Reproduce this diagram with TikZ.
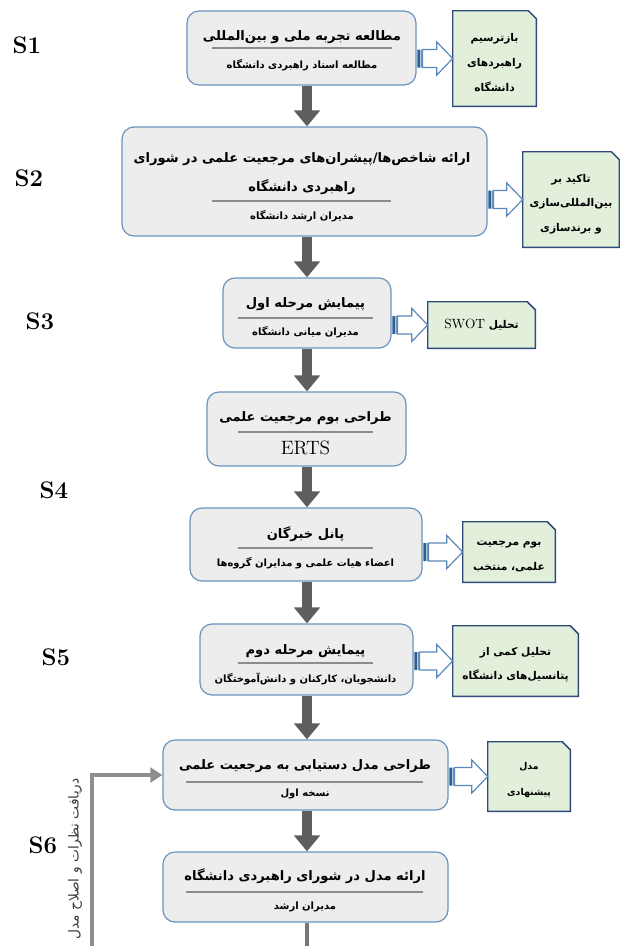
\documentclass[tikz,border=0pt]{standalone}
\usepackage{fontspec}
\usetikzlibrary{arrows.meta,calc}
\TeXXeTstate=1
\newfontfamily\farsi[Script=Arabic]{DejaVu Sans}
\newcommand{\fa}[1]{{\farsi\beginR #1\endR}}

\definecolor{boxfill}{HTML}{EDEDED}
\definecolor{boxline}{HTML}{6A93BF}
\definecolor{notefill}{HTML}{E2EFDA}
\definecolor{noteline}{HTML}{2F4B7C}
\definecolor{flowgray}{HTML}{5E5E5E}
\definecolor{loopgray}{HTML}{8E8E8E}
\definecolor{rulegray}{HTML}{8C8C8C}
\definecolor{hollowline}{HTML}{5A88BC}
\definecolor{stripeblue}{HTML}{2F5F90}
\definecolor{labelgray}{HTML}{3A3A3A}

\tikzset{
  wh/.style 2 args={minimum width=#1*0.75pt, minimum height=#2*0.75pt},
  stepbox/.style={rectangle, draw=boxline, fill=boxfill, line width=0.9pt,
    rounded corners=9pt, inner sep=0pt},
  noteframe/.style={rectangle, inner sep=0pt},
  notefacet/.style={draw=noteline, fill=notefill, line width=1.1pt, line join=miter},
  notetext/.style={inner sep=0pt, align=center, font=\fontsize{8}{18.5}\selectfont\bfseries},
  ttl/.style={inner sep=0pt, font=\fontsize{9.8}{12}\selectfont\bfseries},
  subttl/.style={inner sep=0pt, font=\fontsize{7.5}{10}\selectfont\bfseries},
  rulel/.style={draw=rulegray, line width=0.8pt},
  flow/.style={draw=flowgray, line width=7.2pt, -{Triangle[length=12pt,width=19pt]}},
  loopline/.style={draw=loopgray, line width=3.4pt, -{Triangle[length=9pt,width=11pt]}},
  stubline/.style={draw=flowgray!85, line width=3.4pt},
  hollow/.style={draw=hollowline, fill=white, line width=0.9pt, line join=miter},
  slabel/.style={inner sep=0pt, font=\fontsize{18}{20}\selectfont\bfseries},
}

% note sheet with a clipped upper right corner
\newcommand{\notesheet}[1]{%
  \draw[notefacet] (#1.south west) -- (#1.north west) -- ([xshift=-6pt]#1.north east)
    -- ([yshift=-6pt]#1.north east) -- (#1.south east) -- cycle;}

% striped hollow block arrow from a step box to its note
\newcommand{\hollowarrow}[2]{%
  \fill[stripeblue] let \p1=(#1.east), \p2=(#2.west) in
    (\x1+0.5pt,\y2-6.75pt) rectangle (\x1+2.4pt,\y2+6.75pt)
    (\x1+3.1pt,\y2-6.75pt) rectangle (\x1+3.8pt,\y2+6.75pt);
  \draw[hollow] let \p1=(#1.east), \p2=(#2.west) in
    (\x1+4.4pt,\y2-6.75pt) -- (\x2-12pt,\y2-6.75pt) -- (\x2-12pt,\y2-12.4pt)
    -- (\x2,\y2) -- (\x2-12pt,\y2+12.4pt) -- (\x2-12pt,\y2+6.75pt)
    -- (\x1+4.4pt,\y2+6.75pt) -- cycle;}

\begin{document}
\begin{tikzpicture}[x=0.75pt,y=-0.75pt]
\useasboundingbox (0,0) rectangle (620,946);
\clip (0,0) rectangle (620,946);

% stage labels
\node[slabel] (s1) at (27,45) {S1};
\node[slabel] (s2) at (29,178) {S2};
\node[slabel] (s3) at (40,321) {S3};
\node[slabel] (s4) at (54,490) {S4};
\node[slabel] (s5) at (56,657) {S5};
\node[slabel] (s6) at (43,845) {S6};

% main flow axis
\coordinate (mx) at (307,0);

% step boxes
\node[stepbox, wh={229}{74}]  (b1) at (301.5,48) {};
\node[stepbox, wh={365}{109}] (b2) at (304.5,181.5) {};
\node[stepbox, wh={168}{70}]  (b3) at (307,313) {};
\node[stepbox, wh={199}{74}]  (b4) at (306.5,429) {};
\node[stepbox, wh={232}{73}]  (b5) at (306,544.5) {};
\node[stepbox, wh={213}{71}]  (b6) at (306.5,659.5) {};
\node[stepbox, wh={285}{70}]  (b7) at (305.5,775) {};
\node[stepbox, wh={285}{70}]  (b8) at (305.5,887) {};

% titles, rules and subtitles
\node[ttl] (t1) at (302,37) {\fa{مطالعه تجربه ملی و بین‌المللی}};
\draw[rulel] (212,48) -- (392,48);
\node[subttl] (u1) at (302,65) {\fa{مطالعه اسناد راهبردی دانشگاه}};

\node[ttl] (t2a) at (302,159) {\fa{ارائه شاخص‌ها/پیشران‌های مرجعیت علمی در شورای}};
\node[ttl] (t2b) at (302,187) {\fa{راهبردی دانشگاه}};
\draw[rulel] (212,201) -- (391,201);
\node[subttl] (u2) at (302,216) {\fa{مدیران ارشد دانشگاه}};

\node[ttl] (t3) at (305.5,304) {\fa{پیمایش مرحله اول}};
\draw[rulel] (238,318) -- (373,318);
\node[subttl] (u3) at (305.5,332) {\fa{مدیران میانی دانشگاه}};

\node[ttl] (t4) at (305.5,418) {\fa{طراحی بوم مرجعیت علمی}};
\draw[rulel] (238,432) -- (373,432);
\node[inner sep=0pt, font=\fontsize{14.5}{16}\selectfont] (u4) at (305.5,448) {ERTS};

\node[ttl] (t5) at (305.5,534) {\fa{پانل خبرگان}};
\draw[rulel] (238,548) -- (373,548);
\node[subttl] (u5) at (305.5,563) {\fa{اعضاء هیات علمی و مدایران  گروه‌ها}};

\node[ttl] (t6) at (305.5,651) {\fa{پیمایش مرحله دوم}};
\draw[rulel] (238,663) -- (373,663);
\node[subttl] (u6) at (305.5,679) {\fa{دانشجویان، کارکنان و دانش‌آموختگان}};

\node[ttl] (t7) at (305,766) {\fa{طراحی مدل دستیابی به مرجعیت علمی}};
\draw[rulel] (186,782) -- (423,782);
\node[subttl] (u7) at (305,794) {\fa{نسخه اول}};

\node[ttl] (t8) at (305,876) {\fa{ارائه مدل در شورای راهبردی دانشگاه}};
\draw[rulel] (186,892) -- (423,892);
\node[subttl] (u8) at (305,907) {\fa{مدیران ارشد}};

% outcome notes
\node[noteframe, wh={83}{95}]  (n1) at (494.5,58.5) {};
\notesheet{n1}
\node[notetext] (n1t) at ([yshift=-3pt]n1.center)
  {\fa{بازترسیم}\\\fa{راهبردهای}\\\fa{دانشگاه}};
\node[noteframe, wh={96}{95}]  (n2) at (571,199.5) {};
\notesheet{n2}
\node[notetext] (n2t) at ([yshift=-3.5pt]n2.center)
  {\fa{تاکید بر}\\\fa{بین‌المللی‌سازی}\\\fa{و برندسازی}};
\node[noteframe, wh={107}{46}] (n3) at (481.5,325) {};
\notesheet{n3}
\node[notetext] (n3t) at (n3.center)
  {\fa{تحلیل \beginL{\normalfont\fontsize{10}{12}\selectfont SWOT}\endL}};
\node[noteframe, wh={92}{60}]  (n5) at (509,552) {};
\notesheet{n5}
\node[notetext] (n5t) at ([yshift=-3.5pt]n5.center)
  {\fa{بوم مرجعیت}\\\fa{علمی، منتخب}};
\node[noteframe, wh={125}{70}] (n6) at (515.5,661) {};
\notesheet{n6}
\node[notetext] (n6t) at ([yshift=-2.7pt]n6.center)
  {\fa{تحلیل کمی از}\\\fa{پتانسیل‌های دانشگاه}};
\node[noteframe, wh={82}{69}]  (n7) at (529,776.5) {};
\notesheet{n7}
\node[notetext, font=\fontsize{7}{19}\selectfont\bfseries] (n7t) at ([yshift=-2.7pt]n7.center)
  {\fa{مدل}\\\fa{پیشنهادی}};

% hollow arrows to the notes
\hollowarrow{b1}{n1}
\hollowarrow{b2}{n2}
\hollowarrow{b3}{n3}
\hollowarrow{b5}{n5}
\hollowarrow{b6}{n6}
\hollowarrow{b7}{n7}

% main flow arrows
\draw[flow] (b1.south -| mx) -- (b2.north -| mx);
\draw[flow] (b2.south -| mx) -- (b3.north -| mx);
\draw[flow] (b3.south -| mx) -- (b4.north -| mx);
\draw[flow] (b4.south -| mx) -- (b5.north -| mx);
\draw[flow] (b5.south -| mx) -- (b6.north -| mx);
\draw[flow] (b6.south -| mx) -- (b7.north -| mx);
\draw[flow] (b7.south -| mx) -- (b8.north -| mx);

% feedback loop back to the model design step
\coordinate (loopc) at (92,948);
\draw[stubline] (b8.south -| mx) -- (loopc -| mx);
\draw[loopline] (loopc -| mx) -- (loopc) |- (b7.west);
\node[rotate=90, inner sep=0pt, text=labelgray, font=\fontsize{10.3}{12}\selectfont]
  (fbl) at (75,859) {\fa{دریافت نظرات و اصلاح مدل}};
\end{tikzpicture}
\end{document}
